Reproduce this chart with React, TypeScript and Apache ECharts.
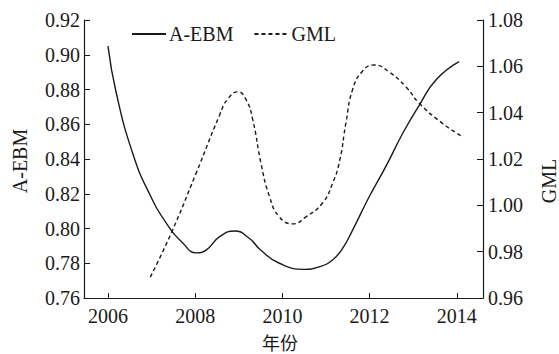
import React, { useEffect, useRef } from "react";
import * as echarts from "echarts";

const ebmYears = [2006.0, 2006.19, 2006.57, 2006.95, 2007.34, 2007.72, 2008.02, 2008.25, 2008.56, 2008.9, 2009.24, 2009.5, 2009.93, 2010.5, 2010.85, 2011.15, 2011.38, 2011.61, 2011.99, 2012.37, 2012.76, 2013.14, 2013.52, 2014.05];
const ebmValues = [0.905, 0.878, 0.843, 0.820, 0.803, 0.7915, 0.786, 0.7876, 0.7953, 0.7986, 0.7944, 0.7876, 0.780, 0.7765, 0.778, 0.7819, 0.7886, 0.7991, 0.8183, 0.8356, 0.8548, 0.871, 0.8855, 0.896];

const gmlYears = [2006.97, 2007.45, 2008.02, 2008.56, 2008.75, 2008.98, 2009.17, 2009.32, 2009.51, 2009.7, 2009.93, 2010.24, 2010.54, 2010.92, 2011.15, 2011.31, 2011.46, 2011.61, 2011.84, 2012.11, 2012.45, 2012.83, 2013.14, 2013.67, 2014.13];
const gmlValues = [0.969, 0.988, 1.0138, 1.039, 1.046, 1.049, 1.0455, 1.037, 1.018, 1.004, 0.995, 0.992, 0.995, 1.001, 1.0095, 1.019, 1.036, 1.050, 1.058, 1.0606, 1.0575, 1.0512, 1.044, 1.0354, 1.0296];

const yearTicks = [2006, 2008, 2010, 2012, 2014];
const seriesNames = ["A-EBM", "GML"];
const xAxisTitle = "年份";

const FONT = "Liberation Serif";
const INK = "#1a1a1a";

export default function App() {
  const ref = useRef<HTMLDivElement>(null);
  useEffect(() => {
    if (!ref.current) return;
    const chart = echarts.init(ref.current, undefined, { renderer: "svg" });
    const ebmData = ebmYears.map((x, i) => [x, ebmValues[i]]);
    const gmlData = gmlYears.map((x, i) => [x, gmlValues[i]]);
    const axisLine = { show: true, lineStyle: { color: INK, width: 1.2 } };
    const labelStyle = { color: INK, fontFamily: FONT, fontSize: 20 };
    chart.setOption({
      animation: false,
      backgroundColor: "#ffffff",
      grid: { left: 84, right: 76, top: 20, bottom: 56, containLabel: false },
      legend: {
        left: 131,
        top: 24,
        padding: 0,
        itemWidth: 34,
        itemHeight: 14,
        itemGap: 20,
        itemStyle: { opacity: 0 },
        textStyle: { color: INK, fontFamily: FONT, fontSize: 20, padding: [0, 0, 0, -2] },
        data: seriesNames,
      },
      xAxis: {
        type: "value",
        min: 2005.45,
        max: 2014.6,
        axisLine,
        splitLine: { show: false },
        axisTick: { show: true, inside: true, length: 5, customValues: yearTicks, lineStyle: { color: INK } },
        axisLabel: { ...labelStyle, margin: 8, customValues: yearTicks, formatter: (v: number) => String(Math.round(v)) },
      },
      yAxis: [
        {
          type: "value",
          min: 0.76,
          max: 0.92,
          interval: 0.02,
          position: "left",
          axisLine,
          splitLine: { show: false },
          axisTick: { show: true, inside: true, length: 6, lineStyle: { color: INK } },
          axisLabel: { ...labelStyle, margin: 4, formatter: (v: number) => v.toFixed(2) },
        },
        {
          type: "value",
          min: 0.96,
          max: 1.08,
          interval: 0.02,
          position: "right",
          axisLine,
          splitLine: { show: false },
          axisTick: { show: true, inside: true, length: 6, lineStyle: { color: INK } },
          axisLabel: { ...labelStyle, margin: 5, formatter: (v: number) => v.toFixed(2) },
        },
      ],
      series: [
        {
          name: seriesNames[0],
          type: "line",
          yAxisIndex: 0,
          data: ebmData,
          smooth: 0.5,
          symbol: "none",
          lineStyle: { color: INK, width: 1.4, type: "solid" },
          itemStyle: { color: INK },
        },
        {
          name: seriesNames[1],
          type: "line",
          yAxisIndex: 1,
          data: gmlData,
          smooth: 0.5,
          symbol: "none",
          lineStyle: { color: INK, width: 1.4, type: [4, 3] },
          itemStyle: { color: INK },
        },
      ],
      graphic: [
        {
          type: "text",
          x: 20,
          y: 161,
          rotation: Math.PI / 2,
          style: { text: "A-EBM", fill: INK, font: `20px "${FONT}"`, textAlign: "center", textVerticalAlign: "middle" },
        },
        {
          type: "text",
          x: 549,
          y: 181,
          rotation: Math.PI / 2,
          style: { text: "GML", fill: INK, font: `20px "${FONT}"`, textAlign: "center", textVerticalAlign: "middle" },
        },
        {
          type: "text",
          x: 280,
          y: 342,
          style: { text: xAxisTitle, fill: INK, font: `18px "Noto Sans CJK SC"`, textAlign: "center", textVerticalAlign: "middle" },
        },
      ],
    });
    return () => chart.dispose();
  }, []);
  return <div ref={ref} style={{ position: "fixed", left: 0, top: 0, width: 559, height: 354 }} />;
}
